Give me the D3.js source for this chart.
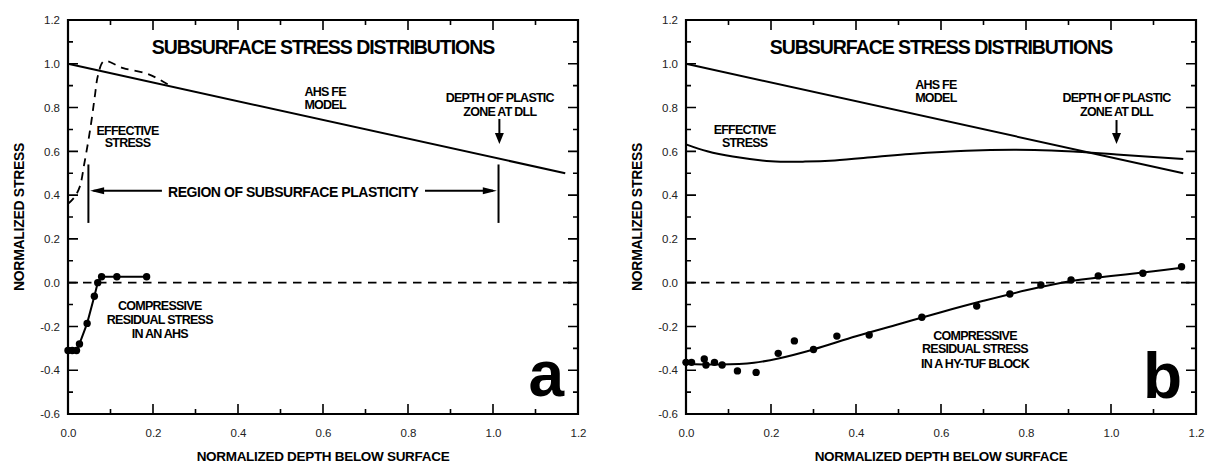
<!DOCTYPE html>
<html>
<head>
<meta charset="utf-8">
<script src="https://cdn.jsdelivr.net/npm/d3@7"></script>
<style>
body { margin: 0; background: #fff; }
text { font-family: "Liberation Sans", Arial, sans-serif; }
.lbl { font-weight: bold; font-size: 12.5px; letter-spacing: -0.75px; text-anchor: middle; fill: #000; }
</style>
</head>
<body>
<div id="chart"></div>
<script>
// tick positions
var xMajor = [0, 0.2, 0.4, 0.6, 0.8, 1.0, 1.2];
var xMinor = [0.1, 0.3, 0.5, 0.7, 0.9, 1.1];
var yMajor = [-0.6, -0.4, -0.2, 0.0, 0.2, 0.4, 0.6, 0.8, 1.0, 1.2];
var yMinor = [-0.5, -0.3, -0.1, 0.1, 0.3, 0.5, 0.7, 0.9, 1.1];

// AHS FE model (both panels)
var ahsDepth = [0, 1.17];
var ahsStress = [1.0, 0.5];

// panel a - effective stress (dashed)
var effADepth = [0, 0.015, 0.028, 0.038, 0.048, 0.056, 0.063, 0.071, 0.085, 0.13, 0.19, 0.24];
var effAStress = [0.36, 0.39, 0.44, 0.54, 0.65, 0.75, 0.85, 0.95, 1.012, 0.98, 0.952, 0.9];

// panel a - compressive residual stress in an AHS
var resADepth = [0, 0.01, 0.02, 0.027, 0.045, 0.062, 0.07, 0.079, 0.115, 0.185];
var resAStress = [-0.31, -0.31, -0.31, -0.28, -0.186, -0.062, 0.0, 0.027, 0.027, 0.027];

// panel b - effective stress
var effBDepth = [0, 0.05, 0.11, 0.2, 0.28, 0.35, 0.45, 0.527, 0.66, 0.82, 0.92, 1.013, 1.17];
var effBStress = [0.632, 0.6, 0.576, 0.555, 0.553, 0.558, 0.575, 0.588, 0.603, 0.606, 0.598, 0.586, 0.565];

// panel b - residual stress in a Hy-Tuf block (measured points)
var resBDepth = [0, 0.013, 0.043, 0.047, 0.067, 0.085, 0.121, 0.165, 0.217, 0.255, 0.30, 0.355, 0.431,
                 0.555, 0.684, 0.762, 0.835, 0.906, 0.970, 1.075, 1.166];
var resBStress = [-0.364, -0.364, -0.349, -0.376, -0.364, -0.376, -0.403, -0.41, -0.323, -0.266, -0.305, -0.244, -0.239,
                  -0.158, -0.107, -0.052, -0.011, 0.012, 0.031, 0.043, 0.073];

// panel b - fitted curve
var fitBDepth = [0, 0.08, 0.16, 0.22, 0.30, 0.40, 0.50, 0.60, 0.70, 0.80, 0.90, 1.00, 1.10, 1.166];
var fitBStress = [-0.37, -0.374, -0.366, -0.345, -0.305, -0.245, -0.19, -0.135, -0.083, -0.035, 0.005, 0.03, 0.052, 0.068];

var svgWidth = 1209;
var svgHeight = 463;
var plotW = 510;
var plotH = 394;

var svg = d3.select("#chart")
    .append("svg")
    .attr("width", svgWidth)
    .attr("height", svgHeight);

var xScale = d3.scaleLinear().domain([0, 1.2]).range([0, plotW]);
var yScale = d3.scaleLinear().domain([-0.6, 1.2]).range([plotH, 0]);
var fmt = d => d.toFixed(1);

function zip(xs, ys) {
    return xs.map((d, i) => [d, ys[i]]);
}

var lineGen = d3.line().x(d => xScale(d[0])).y(d => yScale(d[1]));
var smoothGen = d3.line().x(d => xScale(d[0])).y(d => yScale(d[1])).curve(d3.curveCatmullRom);

function tickPath(xv, yv, len) {
    var d = "";
    xv.forEach(function(v) {
        var px = xScale(v);
        d += "M" + px + "," + plotH + "V" + (plotH - len);
        d += "M" + px + ",0V" + len;
    });
    yv.forEach(function(v) {
        var py = yScale(v);
        d += "M0," + py + "H" + len;
        d += "M" + plotW + "," + py + "H" + (plotW - len);
    });
    return d;
}

function drawLabels(g) {
    // tick labels
    g.append("g").attr("transform", `translate(0, ${plotH})`)
        .call(d3.axisBottom(xScale).tickValues(xMajor).tickSize(0).tickPadding(15).tickFormat(fmt))
        .call(a => a.select(".domain").remove());
    g.append("g")
        .call(d3.axisLeft(yScale).tickValues(yMajor).tickSize(0).tickPadding(8).tickFormat(fmt))
        .call(a => a.select(".domain").remove());
    g.selectAll(".tick text")
        .attr("font-family", "Liberation Sans, Arial, sans-serif")
        .attr("font-size", 11.5)
        .attr("fill", "#222");

    // zero line
    g.append("path")
        .attr("d", lineGen([[0, 0], [1.2, 0]]))
        .attr("fill", "none").attr("stroke", "#000").attr("stroke-width", 1.8)
        .attr("stroke-dasharray", "8.5,6.5");

    // title
    g.append("text")
        .attr("x", xScale(0.6)).attr("y", yScale(1.045))
        .attr("text-anchor", "middle")
        .attr("font-size", 19.5).attr("font-weight", "bold").attr("letter-spacing", -1.05)
        .text("SUBSURFACE STRESS DISTRIBUTIONS");

    // axis titles
    g.append("text")
        .attr("transform", `translate(-44, ${plotH / 2}) rotate(-90)`)
        .attr("text-anchor", "middle")
        .attr("font-size", 14).attr("font-weight", "bold").attr("letter-spacing", -0.3)
        .text("NORMALIZED STRESS");
    g.append("text")
        .attr("x", plotW / 2).attr("y", plotH + 47)
        .attr("text-anchor", "middle")
        .attr("font-size", 13.5).attr("font-weight", "bold").attr("letter-spacing", -0.3)
        .text("NORMALIZED DEPTH BELOW SURFACE");
}

// box and inward ticks, drawn last so they sit on top
function drawFrame(g) {
    g.append("path").attr("d", tickPath(xMajor, yMajor, 10))
        .attr("fill", "none").attr("stroke", "#000").attr("stroke-width", 1.6);
    g.append("path").attr("d", tickPath(xMinor, yMinor, 5))
        .attr("fill", "none").attr("stroke", "#000").attr("stroke-width", 1.6);
    g.append("path").attr("d", "M0,0H" + plotW + "V" + plotH + "H0Z")
        .attr("fill", "none").attr("stroke", "#000").attr("stroke-width", 2.2);
}

function label(g, lines, xd, yds) {
    lines.forEach(function(t, i) {
        g.append("text").attr("class", "lbl")
            .attr("x", xScale(xd)).attr("y", yScale(yds[i]))
            .text(t);
    });
}

function arrowHead(g, tx, ty, dir, len, half) {
    var pts;
    if (dir == "down") pts = [[tx, ty], [tx - half, ty - len], [tx + half, ty - len]];
    if (dir == "left") pts = [[tx, ty], [tx + len, ty - half], [tx + len, ty + half]];
    if (dir == "right") pts = [[tx, ty], [tx - len, ty - half], [tx - len, ty + half]];
    g.append("path").attr("d", "M" + pts.join("L") + "Z").attr("fill", "#000");
}

function strokeIt(sel, w) {
    return sel.attr("fill", "none").attr("stroke", "#000").attr("stroke-width", w);
}

function downArrow(g, xd, y0, y1) {
    strokeIt(g.append("path").attr("d", lineGen([[xd, y0], [xd, y1 + 0.03]])), 2);
    arrowHead(g, xScale(xd), yScale(y1), "down", 11, 4.5);
}

// ---------------- panel a ----------------
var gA = svg.append("g").attr("transform", "translate(68, 20)");
drawLabels(gA);

strokeIt(gA.append("path").attr("d", lineGen(zip(ahsDepth, ahsStress))), 2);
strokeIt(gA.append("path").attr("d", smoothGen(zip(effADepth, effAStress))), 1.8)
    .attr("stroke-dasharray", "8,6");

strokeIt(gA.append("path").attr("d", lineGen(zip(resADepth, resAStress))), 2);
gA.selectAll(".ptA")
    .data(zip(resADepth, resAStress))
    .enter()
    .append("circle")
    .attr("cx", d => xScale(d[0]))
    .attr("cy", d => yScale(d[1]))
    .attr("r", 3.7)
    .attr("fill", "#000");

label(gA, ["EFFECTIVE", "STRESS"], 0.14, [0.675, 0.618]);
label(gA, ["AHS FE", "MODEL"], 0.605, [0.851, 0.792]);
label(gA, ["DEPTH OF PLASTIC", "ZONE AT DLL"], 1.016, [0.824, 0.76]);
downArrow(gA, 1.015, 0.748, 0.633);
label(gA, ["COMPRESSIVE", "RESIDUAL STRESS", "IN AN AHS"], 0.216, [-0.126, -0.187, -0.251]);

// region of subsurface plasticity
gA.append("text")
    .attr("x", xScale(0.53)).attr("y", yScale(0.393))
    .attr("text-anchor", "middle")
    .attr("font-size", 14).attr("font-weight", "bold").attr("letter-spacing", -0.45)
    .text("REGION OF SUBSURFACE PLASTICITY");
[0.048, 1.013].forEach(function(xd) {
    strokeIt(gA.append("path").attr("d", lineGen([[xd, 0.54], [xd, 0.273]])), 2);
});
strokeIt(gA.append("path").attr("d", lineGen([[0.06, 0.42], [0.221, 0.42]])), 2);
arrowHead(gA, xScale(0.052), yScale(0.42), "left", 14, 3.5);
strokeIt(gA.append("path").attr("d", lineGen([[0.84, 0.42], [1.0, 0.42]])), 2);
arrowHead(gA, xScale(1.009), yScale(0.42), "right", 14, 3.5);

gA.append("text")
    .attr("x", xScale(1.167)).attr("y", yScale(-0.518))
    .attr("text-anchor", "end")
    .attr("font-size", 64).attr("font-weight", "bold")
    .text("a");

drawFrame(gA);

// ---------------- panel b ----------------
var gB = svg.append("g").attr("transform", "translate(686, 20)");
drawLabels(gB);

strokeIt(gB.append("path").attr("d", lineGen(zip(ahsDepth, ahsStress))), 2);
strokeIt(gB.append("path").attr("d", smoothGen(zip(effBDepth, effBStress))), 2);
strokeIt(gB.append("path").attr("d", smoothGen(zip(fitBDepth, fitBStress))), 2);

gB.selectAll(".ptB")
    .data(zip(resBDepth, resBStress))
    .enter()
    .append("circle")
    .attr("cx", d => xScale(d[0]))
    .attr("cy", d => yScale(d[1]))
    .attr("r", 3.7)
    .attr("fill", "#000");

label(gB, ["EFFECTIVE", "STRESS"], 0.138, [0.678, 0.62]);
label(gB, ["AHS FE", "MODEL"], 0.588, [0.883, 0.824]);
label(gB, ["DEPTH OF PLASTIC", "ZONE AT DLL"], 1.013, [0.824, 0.761]);
downArrow(gB, 1.013, 0.743, 0.633);
label(gB, ["COMPRESSIVE", "RESIDUAL STRESS", "IN A HY-TUF BLOCK"], 0.68, [-0.263, -0.323, -0.388]);

gB.append("text")
    .attr("x", xScale(1.167)).attr("y", yScale(-0.527))
    .attr("text-anchor", "end")
    .attr("font-size", 64).attr("font-weight", "bold")
    .text("b");

drawFrame(gB);
</script>
</body>
</html>
